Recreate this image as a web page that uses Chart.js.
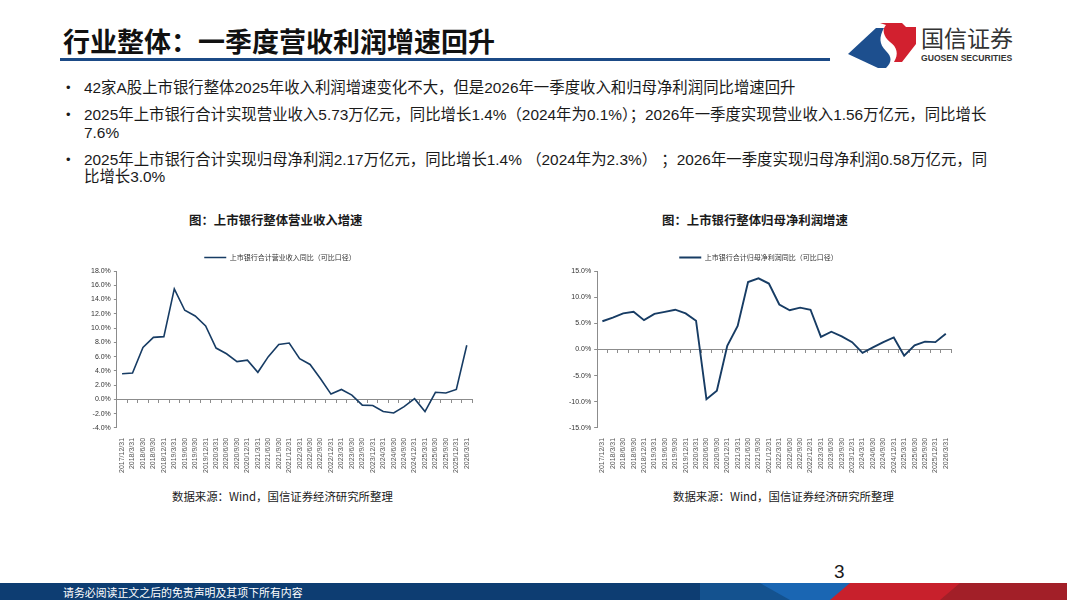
<!DOCTYPE html>
<html>
<head>
<meta charset="utf-8">
<script src="https://cdn.jsdelivr.net/npm/chart.js@4.4.0/dist/chart.umd.min.js"></script>
<style>
  html, body { margin: 0; padding: 0; background: #fff; }
  body { width: 1067px; height: 600px; position: relative; overflow: hidden;
         font-family: "Liberation Sans", Arial, "Noto Sans CJK SC", sans-serif; color: #1a1a1a; }
  .title { position: absolute; left: 63px; top: 21px; font-size: 27px; font-weight: bold;
           font-family: "Noto Sans CJK SC", sans-serif; color: #111; white-space: nowrap; }
  .rule { position: absolute; left: 60px; top: 58px; width: 770px; height: 3px; background: #1b4a86; }
  .bullets { position: absolute; left: 66px; top: 79px; width: 929px; font-size: 15.4px; line-height: 17.5px; }
  .bullets div { position: relative; padding-left: 18px; margin-bottom: 9.5px; }
  .bullets div::before { content: "•"; position: absolute; left: 0; top: 0; font-size: 13px; }
  .ctitle { position: absolute; top: 211px; font-size: 12.4px; font-weight: bold;
            font-family: "Noto Sans CJK SC", sans-serif; white-space: nowrap; }
  .src { position: absolute; top: 488px; font-size: 11.4px; font-family: "Noto Sans CJK SC", sans-serif; white-space: nowrap; }
  .box { position: absolute; }
  .page { position: absolute; left: 834px; top: 561px; font-size: 19px; }
  .footer { position: absolute; left: 0; top: 583px; width: 1067px; height: 17px; }
  .ftext { position: absolute; left: 63px; top: 584px; font-size: 10.9px; color: #fff;
           font-family: "Noto Sans CJK SC", sans-serif; white-space: nowrap; }
</style>
</head>
<body>
<div class="title">行业整体：一季度营收利润增速回升</div>
<div class="rule"></div>

<svg style="position:absolute;left:846px;top:18px" width="180" height="52" viewBox="0 0 180 52">
  <path d="M2 36 L30 10 L38 10 C33 19 33 26 40 33 C46 39 46 44 40 50 L32 50 Z" fill="#1d4f8e"/>
  <path d="M34 5 L56 5 L60 9 L70 9 L70 26 L56 44 L48 44 C53 36 51 29 44 24 C37 18 36 11 40 7 Z" fill="#d2202f"/>
  <text x="75" y="29" font-size="23" font-family="Noto Sans CJK SC" fill="#333">国信证券</text>
  <text x="75" y="43" font-size="8.6" font-weight="bold" font-family="Liberation Sans" fill="#333">GUOSEN SECURITIES</text>
</svg>

<div class="bullets">
  <div>42家A股上市银行整体2025年收入利润增速变化不大，但是2026年一季度收入和归母净利润同比增速回升</div>
  <div>2025年上市银行合计实现营业收入5.73万亿元，同比增长1.4%（2024年为0.1%）；2026年一季度实现营业收入1.56万亿元，同比增长7.6%</div>
  <div>2025年上市银行合计实现归母净利润2.17万亿元，同比增长1.4% （2024年为2.3%） ；2026年一季度实现归母净利润0.58万亿元，同比增长3.0%</div>
</div>

<div class="ctitle" style="left:189px">图：上市银行整体营业收入增速</div>
<div class="ctitle" style="left:662px">图：上市银行整体归母净利润增速</div>

<div class="box" style="left:88px;top:240px;width:390px;height:235px"><canvas id="revChart" width="390" height="235"></canvas></div>
<div class="box" style="left:566px;top:240px;width:391px;height:235px"><canvas id="profitChart" width="391" height="235"></canvas></div>

<div class="src" style="left:172px">数据来源：Wind，国信证券经济研究所整理</div>
<div class="src" style="left:673px">数据来源：Wind，国信证券经济研究所整理</div>

<div class="page">3</div>
<svg class="footer" width="1067" height="17" viewBox="0 0 1067 17">
  <rect x="0" y="0" width="1067" height="17" fill="#0d3d72"/>
  <polygon points="700,0 800,0 835,17 700,17" fill="#14528f"/>
  <polygon points="760,0 850,0 870,17 790,17" fill="#1a66b3"/>
  <polygon points="850,0 1067,0 1067,17 830,17" fill="#c8202c"/>
  <polygon points="960,0 1067,0 1067,17 940,17" fill="#a21f28"/>
</svg>
<div class="ftext">请务必阅读正文之后的免责声明及其项下所有内容</div>

<script>
// quarter-end dates shared by both charts
const quarters = [
  '2017/12/31',
  '2018/3/31', '2018/6/30', '2018/9/30', '2018/12/31',
  '2019/3/31', '2019/6/30', '2019/9/30', '2019/12/31',
  '2020/3/31', '2020/6/30', '2020/9/30', '2020/12/31',
  '2021/3/31', '2021/6/30', '2021/9/30', '2021/12/31',
  '2022/3/31', '2022/6/30', '2022/9/30', '2022/12/31',
  '2023/3/31', '2023/6/30', '2023/9/30', '2023/12/31',
  '2024/3/31', '2024/6/30', '2024/9/30', '2024/12/31',
  '2025/3/31', '2025/6/30', '2025/9/30', '2025/12/31',
  '2026/3/31'
];

// 上市银行合计营业收入同比 (%)
const revenueYoy = [
  3.6,
  3.7, 7.3, 8.7, 8.8,
  15.5, 12.5, 11.7, 10.3,
  7.2, 6.4, 5.3, 5.5,
  3.8, 6.0, 7.7, 7.9,
  5.7, 4.9, 2.9, 0.75,
  1.4, 0.6, -0.8, -0.85,
  -1.7, -1.9, -1.0, 0.1,
  -1.7, 1.0, 0.9, 1.4,
  7.6
];

// 上市银行合计归母净利润同比 (%)
const profitYoy = [
  5.4,
  6.1, 6.9, 7.2, 5.6,
  6.8, 7.2, 7.6, 6.9,
  5.5, -9.5, -7.9, 0.7,
  4.5, 12.9, 13.6, 12.6,
  8.6, 7.5, 8.0, 7.6,
  2.4, 3.4, 2.5, 1.4,
  -0.65, 0.4, 1.4, 2.3,
  -1.2, 0.8, 1.5, 1.4,
  3.0
];

const revenueLabel = '上市银行合计营业收入同比（可比口径）';
const profitLabel = '上市银行合计归母净利润同比（可比口径）';

const lineColor = '#173c64';
const axisColor = '#8c8c8c';
const tickFont = { size: 7, family: 'Liberation Sans, Noto Sans CJK SC' };

function makeChart(canvasId, label, values, yMin, yMax, yStep, lineWidth) {
  return new Chart(document.getElementById(canvasId), {
    type: 'line',
    data: {
      labels: quarters,
      datasets: [{
        label: label,
        data: values,
        borderColor: lineColor,
        backgroundColor: lineColor,
        borderWidth: lineWidth,
        pointRadius: 0,
        tension: 0
      }]
    },
    options: {
      responsive: false,
      animation: false,
      layout: { padding: { top: 2, right: 6, left: 0, bottom: 0 } },
      plugins: {
        tooltip: { enabled: false },
        legend: {
          position: 'top',
          labels: {
            boxWidth: 22,
            boxHeight: 0,
            color: '#333',
            padding: 12,
            font: { size: 7, family: 'Noto Sans CJK SC' }
          }
        }
      },
      scales: {
        x: {
          type: 'category',
          offset: true,
          grid: { display: false },
          border: { display: false },
          ticks: {
            color: '#555',
            font: tickFont,
            autoSkip: false,
            maxRotation: 90,
            minRotation: 90,
            padding: 2
          }
        },
        // axis line drawn through zero with small tick marks, as in the source
        xZero: {
          type: 'category',
          axis: 'x',
          labels: quarters,
          position: { y: 0 },
          offset: true,
          grid: { drawOnChartArea: false, drawTicks: true, tickLength: 3, color: axisColor, offset: true },
          border: { display: true, color: axisColor, width: 1 },
          ticks: { display: false }
        },
        y: {
          min: yMin,
          max: yMax,
          grid: { drawOnChartArea: false, drawTicks: true, tickLength: 3, color: axisColor },
          border: { display: true, color: axisColor, width: 1 },
          ticks: {
            stepSize: yStep,
            color: '#333',
            font: tickFont,
            padding: 3,
            callback: (v) => v.toFixed(1) + '%'
          }
        }
      }
    }
  });
}

makeChart('revChart', revenueLabel, revenueYoy, -4, 18, 2, 1.6);
makeChart('profitChart', profitLabel, profitYoy, -15, 15, 5, 1.9);
</script>
</body>
</html>
